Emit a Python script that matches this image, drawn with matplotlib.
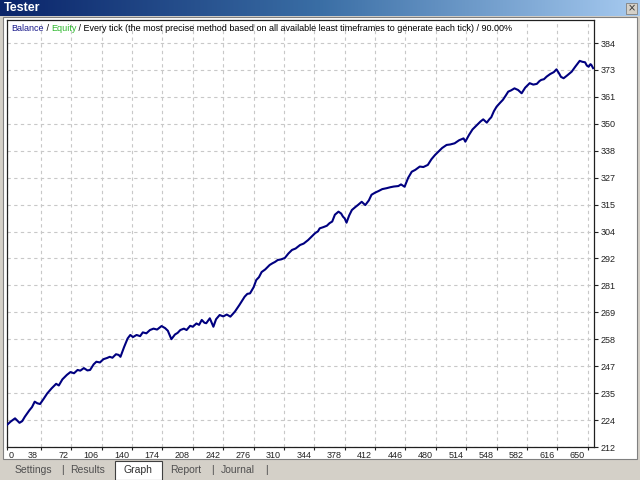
import matplotlib
matplotlib.use("Agg")
import matplotlib.pyplot as plt
import matplotlib.patches as mpatches
import matplotlib.transforms as mtransforms
from matplotlib.colors import LinearSegmentedColormap
import numpy as np

plt.rcParams['font.family'] = ['Liberation Sans Narrow', 'Liberation Sans', 'DejaVu Sans']

# balance curve: (trade number, balance)
curve = [
    (0, 221.4), (4, 222.8), (9, 224.2), (14, 222.3), (17, 223.0), (20, 224.9),
    (25, 227.6), (28, 229.0), (31, 231.3), (34, 230.6), (37, 230.3), (41, 232.5),
    (45, 234.8), (50, 237.0), (55, 238.9), (58, 238.2), (62, 240.8), (67, 242.7),
    (71, 243.9), (75, 243.4), (79, 244.8), (82, 244.5), (86, 245.6), (90, 244.6),
    (93, 244.8), (97, 247.2), (100, 248.3), (104, 248.0), (108, 249.4), (112, 249.9),
    (115, 250.4), (118, 250.0), (122, 251.5), (125, 251.2), (127, 250.4), (131, 254.5),
    (135, 258.2), (138, 259.7), (141, 258.8), (145, 259.7), (149, 259.2), (152, 260.8),
    (156, 260.4), (160, 261.8), (164, 262.4), (168, 262.0), (173, 263.5), (177, 262.6),
    (180, 261.5), (184, 257.9), (188, 259.9), (191, 260.6), (194, 261.8), (198, 262.4),
    (201, 261.8), (205, 263.6), (208, 263.2), (212, 264.6), (215, 264.0), (218, 266.1),
    (221, 264.9), (223, 264.7), (227, 266.8), (229, 265.0), (231, 263.2), (234, 266.4),
    (238, 268.2), (242, 267.6), (246, 268.4), (250, 267.5), (255, 269.6), (260, 272.4),
    (266, 276.0), (269, 277.2), (272, 277.4), (276, 280.0), (279, 283.1), (282, 284.3),
    (285, 286.5), (289, 287.6), (294, 289.5), (297, 290.2), (300, 290.8), (303, 291.6),
    (307, 291.9), (311, 292.5), (315, 294.4), (319, 295.9), (323, 296.5), (328, 298.0),
    (332, 298.6), (337, 300.1), (341, 301.6), (345, 303.1), (348, 303.8), (350, 305.1),
    (354, 305.6), (358, 306.2), (361, 307.3), (364, 308.0), (367, 310.9), (371, 312.2),
    (374, 311.4), (376, 310.1), (378, 309.3), (380, 307.5), (383, 310.6), (386, 312.9),
    (390, 314.2), (393, 315.1), (397, 316.4), (399, 315.7), (401, 315.0), (405, 317.0),
    (408, 319.4), (412, 320.3), (416, 321.0), (420, 321.8), (425, 322.2), (429, 322.6),
    (433, 322.9), (438, 323.1), (441, 323.8), (445, 322.8), (449, 326.6), (453, 329.2),
    (457, 330.0), (462, 331.4), (466, 331.2), (471, 332.1), (475, 334.5), (479, 336.3),
    (483, 337.8), (487, 339.3), (492, 340.6), (496, 340.8), (501, 341.3), (506, 342.6),
    (511, 343.4), (513, 342.0), (517, 344.8), (521, 347.2), (526, 349.1), (530, 350.6),
    (533, 351.5), (537, 350.1), (540, 351.6), (542, 352.4), (545, 355.0), (548, 356.9),
    (552, 358.6), (555, 359.8), (558, 361.5), (561, 363.3), (564, 363.8), (568, 364.7),
    (572, 364.0), (576, 362.6), (580, 365.0), (585, 366.9), (589, 366.3), (593, 366.6),
    (596, 367.8), (598, 368.3), (601, 368.6), (604, 369.7), (608, 370.8), (612, 371.6),
    (615, 372.8), (618, 371.0), (620, 369.6), (623, 369.0), (627, 370.2), (632, 371.8),
    (636, 373.9), (641, 376.4), (644, 376.0), (647, 375.8), (649, 374.4), (651, 373.9),
    (653, 375.0), (654, 374.7), (656, 373.3),
]
trades = [c[0] for c in curve]
balance = [c[1] for c in curve]

x_ticks = [0, 38, 72, 106, 140, 174, 208, 242, 276, 310, 344, 378, 412, 446,
           480, 514, 548, 582, 616, 650]
y_labels = ['212', '224', '235', '247', '258', '269', '281', '292', '304',
            '315', '327', '338', '350', '361', '373', '384']

legend_parts = [('Balance', '#1c1c8c'), (' / ', 'black'), ('Equity', '#2cb82c'),
                (' / Every tick (the most precise method based on all available '
                 'least timeframes to generate each tick) / 90.00%', 'black')]
tabs = ['Settings', 'Results', 'Graph', 'Report', 'Journal']


def fx(px):
    return px / 640


def fy(py):
    return 1 - py / 480


fig = plt.figure(figsize=(6.4, 4.8), dpi=100)
fig.patch.set_facecolor('#d4d0c8')

# white panel of the tester window
fig.add_artist(mpatches.Rectangle((fx(3), fy(459)), fx(634), (459 - 17) / 480,
                                  transform=fig.transFigure, facecolor='white',
                                  edgecolor='#808080', linewidth=0.8, zorder=-10))

# title bar
tax = fig.add_axes([0, fy(16), 1, 16 / 480])
grad = np.linspace(0, 1, 256).reshape(1, -1)
cmap = LinearSegmentedColormap.from_list('tb', ['#0a246a', '#3a6ea5', '#a6caf0'])
tax.imshow(grad, aspect='auto', cmap=cmap, extent=[0, 1, 0, 1])
tax.axis('off')
tax.text(0.006, 0.5, 'Tester', color='white', fontsize=9, fontweight='bold',
         va='center', ha='left', family=['Liberation Sans', 'DejaVu Sans'])
fig.add_artist(mpatches.Rectangle((fx(626), fy(14)), 11 / 640, 11 / 480,
                                  transform=fig.transFigure, facecolor='#d4d0c8',
                                  edgecolor='#808080', linewidth=0.6))
fig.text(fx(631.5), fy(8.5), '×', fontsize=7, ha='center', va='center',
         color='#333333', family=['DejaVu Sans'])

# chart
ax = fig.add_axes([fx(7), fy(447), fx(594) - fx(7), (447 - 20) / 480])
ax.set_facecolor('white')
ax.plot(trades, balance, color='#000080', linewidth=1.5, zorder=3)
ax.set_xlim(0, 657)
ax.set_ylim(212, 393.8)
ax.set_xticks(x_ticks)
ax.set_xticklabels([str(t) for t in x_ticks])
ax.yaxis.tick_right()
ax.set_yticks(np.linspace(212, 384, len(y_labels)))
ax.set_yticklabels(y_labels)
ax.grid(True, color='#c8c8c8', linestyle=(0, (3, 3)), linewidth=0.8)
ax.tick_params(axis='y', direction='out', length=3, width=0.8, pad=2,
               labelsize=6.5, colors='#222222')
ax.tick_params(axis='x', direction='out', length=2, width=0.8, pad=1,
               labelsize=6.5, colors='#222222')
for sp in ax.spines.values():
    sp.set_color('#202020')
    sp.set_linewidth(0.9)

for i, lbl in enumerate(ax.get_xticklabels()):
    if i == 0:
        lbl.set_ha('left')
        shift = 0.02
    else:
        lbl.set_ha('right')
        shift = -0.03
    lbl.set_transform(lbl.get_transform() +
                      mtransforms.ScaledTranslation(shift, 0, fig.dpi_scale_trans))

# legend line in the top left corner
prev = ax.text(fx(11), fy(33), legend_parts[0][0], color=legend_parts[0][1],
               fontsize=6.5, ha='left', va='bottom', transform=fig.transFigure)
for txt, col in legend_parts[1:]:
    prev = ax.annotate(txt, xy=(1, 0), xycoords=prev, ha='left', va='bottom',
                       color=col, fontsize=6.5, annotation_clip=False)

# tabs at the bottom
fig.add_artist(mpatches.Rectangle((fx(115), fy(480)), 47 / 640, 19 / 480,
                                  transform=fig.transFigure, facecolor='white',
                                  edgecolor='#404040', linewidth=0.8))
tab_x = [33, 88, 138, 186, 238]
for name, px in zip(tabs, tab_x):
    fig.text(fx(px), fy(470), name, fontsize=7.5, ha='center', va='center',
             color='#303030' if name == 'Graph' else '#505050')
for px in [62, 212, 266]:
    fig.text(fx(px), fy(470), '|', fontsize=7.5, ha='center', va='center',
             color='#505050')

fig.savefig('out.png', dpi=100, facecolor=fig.get_facecolor())
